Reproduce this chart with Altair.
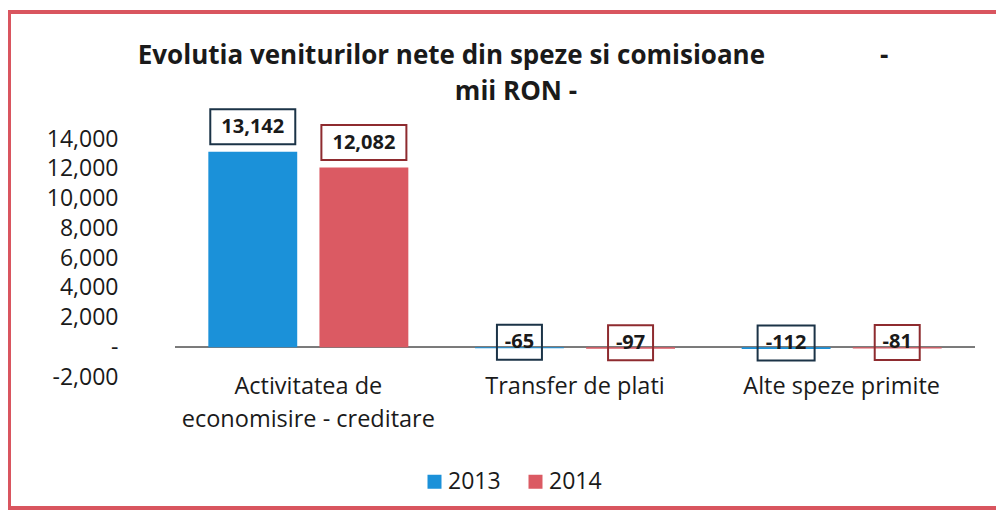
import altair as alt
import pandas as pd

categories = ["Activitatea de economisire - creditare", "Transfer de plati", "Alte speze primite"]
years = ["2013", "2014"]
values_2013 = [13142, -65, -112]
values_2014 = [12082, -97, -81]
y_ticks = [-2000, 0, 2000, 4000, 6000, 8000, 10000, 12000, 14000]
title_lines = ["Evolutia veniturilor nete din speze si comisioane", "mii RON -"]

rows = []
for yr, vals in zip(years, [values_2013, values_2014]):
    for c, v in zip(categories, vals):
        rows.append({"cat": c, "year": yr, "value": v, "label": f"{v:,}"})
df = pd.DataFrame(rows)

FONT = "Open Sans"
bar_colors = ["#1b91d9", "#db5a63"]
box_colors = ["#1b3347", "#8e2b2f"]
y_scale = alt.Scale(domain=[-2000, 14000], nice=False, zero=False)

x_enc = alt.X("cat:N", sort=categories, scale=alt.Scale(paddingInner=0, paddingOuter=0),
              axis=alt.Axis(title=None, labelAngle=0, domain=False, ticks=False, labelPadding=-3,
                            labelFont=FONT, labelFontSize=23.5, labelColor="#1a1a1a", labelLineHeight=33,
                            labelBaseline="top", labelLimit=0,
                            labelExpr="datum.label == 'Activitatea de economisire - creditare' ? ['Activitatea de', 'economisire - creditare'] : datum.label"))
xoff = alt.XOffset("year:N", sort=years, scale=alt.Scale(paddingInner=0.2, paddingOuter=0.3))
y_enc = alt.Y("value:Q", scale=y_scale,
              axis=alt.Axis(title=None, values=y_ticks, tickCount=20, grid=False, ticks=False, domain=False,
                            labelOverlap=False, labelFont=FONT, labelFontSize=23, labelColor="#1a1a1a",
                            labelPadding=57,
                            labelExpr="datum.value == 0 ? '-\u2002' : replace(format(datum.value, ','), '\u2212', '-')"))

base = alt.Chart(df)
one = pd.DataFrame({"f": [0]})

frame = alt.Chart(one).mark_rect(
    fill=None, stroke="#d9555f", strokeWidth=4, opacity=1
).encode(x=alt.value(-166), x2=alt.value(900), y=alt.value(-127), y2=alt.value(369))

title1 = alt.Chart(one).mark_text(
    font=FONT, fontSize=26, fontWeight="bold", color="#1a1a1a", align="center", baseline="alphabetic"
).encode(x=alt.value(338), y=alt.value(-75), text=alt.value(title_lines[0] + "\u00a0" * 17 + "-"))

title2 = alt.Chart(one).mark_text(
    font=FONT, fontSize=26, fontWeight="bold", color="#1a1a1a", align="center", baseline="alphabetic"
).encode(x=alt.value(341), y=alt.value(-39), text=alt.value(title_lines[1]))

zero_rule = alt.Chart(df).mark_rule(color="#7a7a7a", strokeWidth=1.5).encode(y=alt.datum(0))

bars = base.mark_bar().encode(
    x=x_enc, xOffset=xoff, y=y_enc,
    color=alt.Color("year:N", sort=years, scale=alt.Scale(domain=years, range=bar_colors),
                    legend=alt.Legend(title=None, orient="none", direction="horizontal",
                                      legendX=248, legendY=331, symbolType="square", symbolSize=196,
                                      symbolStrokeWidth=0, labelFont=FONT, labelFontSize=23,
                                      labelColor="#1a1a1a", labelOffset=2, columnPadding=23, padding=0))
)

paths = {
    "p6": "M-0.85,-0.85L0.85,-0.85L0.85,-0.15L-0.85,-0.15Z",
    "n3": "M-0.45,-0.47L0.45,-0.47L0.45,0.23L-0.45,0.23Z",
    "n4": "M-0.57,-0.47L0.57,-0.47L0.57,0.23L-0.57,0.23Z",
}

boxes = base.transform_calculate(
    key="(datum.value >= 0 ? 'p' : 'n') + length(datum.label)"
).mark_point(size=10000, filled=False, strokeWidth=2, opacity=1).encode(
    x=alt.X("cat:N", sort=categories), xOffset=alt.XOffset("year:N", sort=years), y=y_enc,
    shape=alt.Shape("key:N", scale=alt.Scale(domain=list(paths.keys()), range=list(paths.values())), legend=None),
    stroke=alt.Stroke("year:N", scale=alt.Scale(domain=years, range=box_colors), legend=None),
)

txt_pos = base.transform_filter("datum.value >= 0").mark_text(
    font=FONT, fontSize=20, fontWeight="bold", color="#1a1a1a", baseline="middle", dy=-25
).encode(x=alt.X("cat:N", sort=categories), xOffset=alt.XOffset("year:N", sort=years), y=y_enc, text="label:N")

txt_neg = base.transform_filter("datum.value < 0").mark_text(
    font=FONT, fontSize=20, fontWeight="bold", color="#1a1a1a", baseline="middle", dy=-6
).encode(x=alt.X("cat:N", sort=categories), xOffset=alt.XOffset("year:N", sort=years), y=y_enc, text="label:N")

chart = alt.layer(frame, title1, title2, zero_rule, bars, boxes, txt_pos, txt_neg).properties(
    width=800, height=238,
    padding={"left": 167, "top": 131, "right": 21, "bottom": 133},
    autosize=alt.AutoSizeParams(type="none"),
).configure(background="white").configure_view(stroke=None).configure_axis(labelOverlap=False)

chart.save("out.html", embed_options={"renderer": "svg", "actions": False})
